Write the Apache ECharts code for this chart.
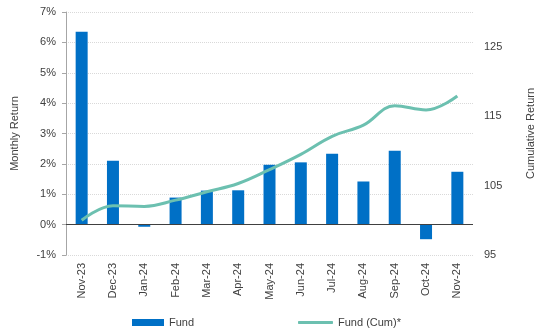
<!DOCTYPE html>
<html>
<head>
<meta charset="utf-8">
<script src="https://cdn.jsdelivr.net/npm/echarts@6/dist/echarts.min.js"></script>
<style>
  html, body { margin: 0; padding: 0; background: #fff; }
  #chart { width: 536px; height: 331px; }
</style>
</head>
<body>
<div id="chart"></div>
<script>
// Monthly fund returns (%) and cumulative index (start = 100)
const months = ['Nov-23', 'Dec-23', 'Jan-24', 'Feb-24', 'Mar-24', 'Apr-24', 'May-24',
                'Jun-24', 'Jul-24', 'Aug-24', 'Sep-24', 'Oct-24', 'Nov-24'];
const monthlyReturn = [6.35, 2.10, -0.07, 0.89, 1.12, 1.13, 1.97, 2.05, 2.33, 1.42, 2.43, -0.48, 1.74];
const cumulative = [100.0, 102.1, 102.0, 102.9, 104.1, 105.3, 107.3, 109.5, 112.1, 113.7, 116.5, 115.9, 117.9];

const font = 'Liberation Sans, Arial, sans-serif';
const textColor = '#404040';
const barColor = '#0070c6';
const lineColor = '#6cc0b0';

const chart = echarts.init(document.getElementById('chart'));
chart.setOption({
  animation: false,
  textStyle: { fontFamily: font },
  grid: { left: 66, right: 63, top: 12, bottom: 76, containLabel: false, outerBoundsMode: 'none' },
  legend: [
    {
      left: 127, top: 312,
      itemWidth: 32, itemHeight: 7,
      textStyle: { fontFamily: font, fontSize: 11, color: textColor },
      data: [{ name: 'Fund', icon: 'rect' }]
    },
    {
      left: 293, top: 312,
      itemWidth: 35, itemHeight: 3,
      textStyle: { fontFamily: font, fontSize: 11, color: textColor },
      data: [{ name: 'Fund (Cum)*', icon: 'roundRect', itemStyle: { color: lineColor } }]
    }
  ],
  xAxis: {
    type: 'category',
    data: months,
    axisLine: { show: false, onZero: false },
    axisTick: { show: false },
    axisLabel: { rotate: 90, margin: 8, fontSize: 11, color: textColor, fontFamily: font }
  },
  yAxis: [
    {
      type: 'value',
      min: -1, max: 7, interval: 1,
      name: 'Monthly Return',
      nameLocation: 'middle',
      nameGap: 46,
      nameTextStyle: { fontSize: 11, color: textColor, fontFamily: font },
      axisLine: { show: true, lineStyle: { color: '#a6a6a6' } },
      axisTick: { show: true, length: 4, lineStyle: { color: '#a6a6a6' } },
      axisLabel: { formatter: '{value}%', margin: 10, fontSize: 11, color: textColor, fontFamily: font },
      splitLine: { show: true, lineStyle: { color: '#d9d9d9', type: 'dotted' } }
    },
    {
      type: 'value',
      position: 'right',
      min: 95, max: 130, interval: 5,
      name: 'Cumulative Return',
      nameLocation: 'middle',
      nameGap: 52,
      nameRotate: 90,
      nameTextStyle: { fontSize: 11, color: textColor, fontFamily: font },
      axisLine: { show: false },
      axisTick: { show: false },
      axisLabel: {
        margin: 11, fontSize: 11, color: textColor, fontFamily: font,
        formatter: v => ((v - 95) % 10 === 0 && v < 130) ? String(v) : ''
      },
      splitLine: { show: false }
    }
  ],
  series: [
    {
      name: 'Fund',
      type: 'bar',
      yAxisIndex: 0,
      data: monthlyReturn,
      barWidth: 12,
      itemStyle: { color: barColor },
      markLine: {
        silent: true,
        symbol: 'none',
        label: { show: false },
        lineStyle: { color: '#404040', type: 'solid', width: 1 },
        data: [{ yAxis: 0 }]
      }
    },
    {
      name: 'Fund (Cum)*',
      type: 'line',
      yAxisIndex: 1,
      data: cumulative,
      smooth: 0.4,
      symbol: 'none',
      lineStyle: { color: lineColor, width: 3 },
      itemStyle: { color: lineColor }
    }
  ]
});
</script>
</body>
</html>
